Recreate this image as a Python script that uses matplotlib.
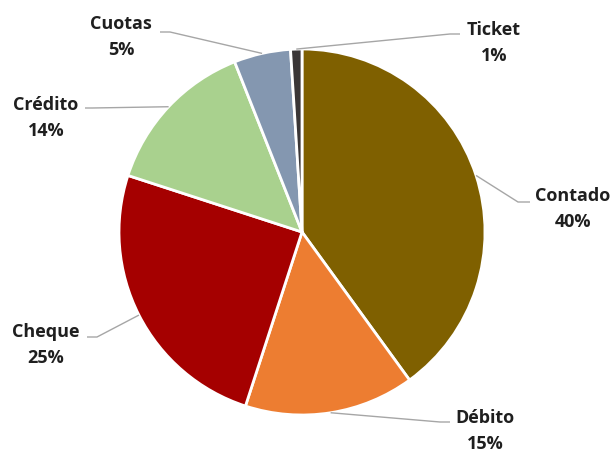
import numpy as np
import matplotlib
matplotlib.use("Agg")
import matplotlib.pyplot as plt

labels = ["Contado", "Débito", "Cheque", "Crédito", "Cuotas", "Ticket"]
values = [40, 15, 25, 14, 5, 1]
colors = ["#7F6000", "#ED7D31", "#A50000", "#A9D18E", "#8497B0", "#3A3636"]

# label layout in pixel coords (x, y from top): text centre, leader knee, leader end
text_pos = [(573, 209), (485, 431), (46, 345), (46, 118), (121, 37), (494, 43)]
knee_pos = [(518, 202), (440, 422), (97, 337), (92, 108), (170, 32), (450, 34)]
end_pos = [(530, 202), (450, 422), (87, 337), (85, 108), (160, 32), (460, 34)]

W, H = 616, 453
cx, cy, r = 302, 232, 183

fig = plt.figure(figsize=(W / 100, H / 100), dpi=100)
ax = fig.add_axes([0, 0, 1, 1])
ax.set_xlim(0, W)
ax.set_ylim(0, H)
ax.set_aspect("equal")
ax.axis("off")

wedges, _ = ax.pie(values, colors=colors, startangle=90, counterclock=False,
                   center=(cx, H - cy), radius=r,
                   wedgeprops=dict(edgecolor="white", linewidth=2))
ax.set_xlim(0, W)
ax.set_ylim(0, H)

for w, lab, v, tp, kp, ep in zip(wedges, labels, values, text_pos, knee_pos, end_pos):
    ang = np.deg2rad((w.theta1 + w.theta2) / 2)
    ex = cx + r * np.cos(ang)
    ey = (H - cy) + r * np.sin(ang)
    ax.plot([ex, kp[0], ep[0]], [ey, H - kp[1], H - ep[1]],
            color="#A6A6A6", lw=1, solid_capstyle="butt")
    ax.text(tp[0], H - tp[1], f"{lab}\n{v}%", ha="center", va="center",
            fontsize=13, fontweight="bold", family="Open Sans",
            color="#1F1F1F", linespacing=1.55)

fig.savefig("out.png", dpi=100)
